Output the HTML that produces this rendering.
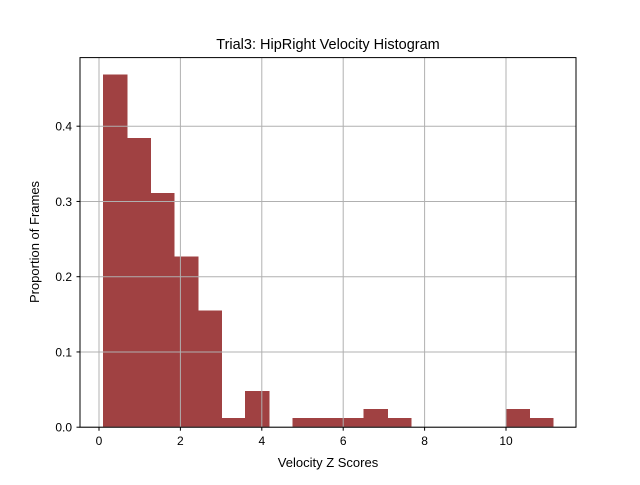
<!DOCTYPE html>
<html><head><meta charset="utf-8"><style>
body{margin:0;background:#fff;font-family:"Liberation Sans","DejaVu Sans",sans-serif}
</style></head><body>
<svg id="chart" width="640" height="480" xmlns="http://www.w3.org/2000/svg">
<rect width="640" height="480" fill="#fff"/>
<text x="328" y="49" text-anchor="middle" font-size="14.5" fill="#000">Trial3: HipRight Velocity Histogram</text>
<g id="bars" shape-rendering="crispEdges"></g>
<g id="grid"></g>
<rect x="80" y="57.6" width="496" height="369.6" fill="none" stroke="#000" stroke-width="1"/>
<g id="ticks"></g>
<text x="328" y="467" text-anchor="middle" font-size="13">Velocity Z Scores</text>
<text transform="translate(39,242) rotate(-90)" text-anchor="middle" font-size="13">Proportion of Frames</text>
</svg>
<script>
const binStart = 0.1;
const binEnd = 11.16;
const binValues = [0.469,0.384,0.311,0.227,0.155,0.012,0.048,0,0.012,0.012,0.012,0.024,0.012,0,0,0,0,0.024,0.012];
const xTicks = [0,2,4,6,8,10];
const yTicks = [0.0,0.1,0.2,0.3,0.4];
const yTickLabels = ["0.0","0.1","0.2","0.3","0.4"];
const X = v => 99 + v*40.7;
const Y = v => 427.2 - v*752.5;
const NS = "http://www.w3.org/2000/svg";
const bars = document.getElementById('bars'), grid = document.getElementById('grid'), ticks = document.getElementById('ticks');
const w = (binEnd-binStart)/binValues.length;
binValues.forEach((v,i)=>{
  if(v<=0) return;
  const r=document.createElementNS(NS,'rect');
  const x0=X(binStart+i*w), x1=X(binStart+(i+1)*w);
  r.setAttribute('x',x0);r.setAttribute('width',x1-x0+0.5);
  r.setAttribute('y',Y(v));r.setAttribute('height',Y(0)-Y(v));
  r.setAttribute('fill','#a04142');
  
  
  bars.appendChild(r);
});
function line(g,x1,y1,x2,y2,c){const l=document.createElementNS(NS,'line');l.setAttribute('x1',x1);l.setAttribute('y1',y1);l.setAttribute('x2',x2);l.setAttribute('y2',y2);l.setAttribute('stroke',c);l.setAttribute('stroke-width','1');g.appendChild(l);return l;}
function text(x,y,s,anchor){const t=document.createElementNS(NS,'text');t.setAttribute('x',x);t.setAttribute('y',y);t.setAttribute('text-anchor',anchor);t.setAttribute('font-size','12');t.textContent=s;ticks.appendChild(t);return t;}
xTicks.forEach(v=>{
  const gl=line(grid,X(v),57.6,X(v),427.2,'#b0b0b0');
  
  
  line(ticks,X(v),427.2,X(v),430.7,'#000');
  const t=text(X(v),445,String(v),'middle');
  
  
});
yTicks.forEach((v,i)=>{
  const gl=line(grid,80,Y(v),576,Y(v),'#b0b0b0');
  
  
  line(ticks,76.5,Y(v),80,Y(v),'#000');
  const t=text(72,Y(v)+4.5,yTickLabels[i],'end');
  
  
});
</script>
</body></html>
